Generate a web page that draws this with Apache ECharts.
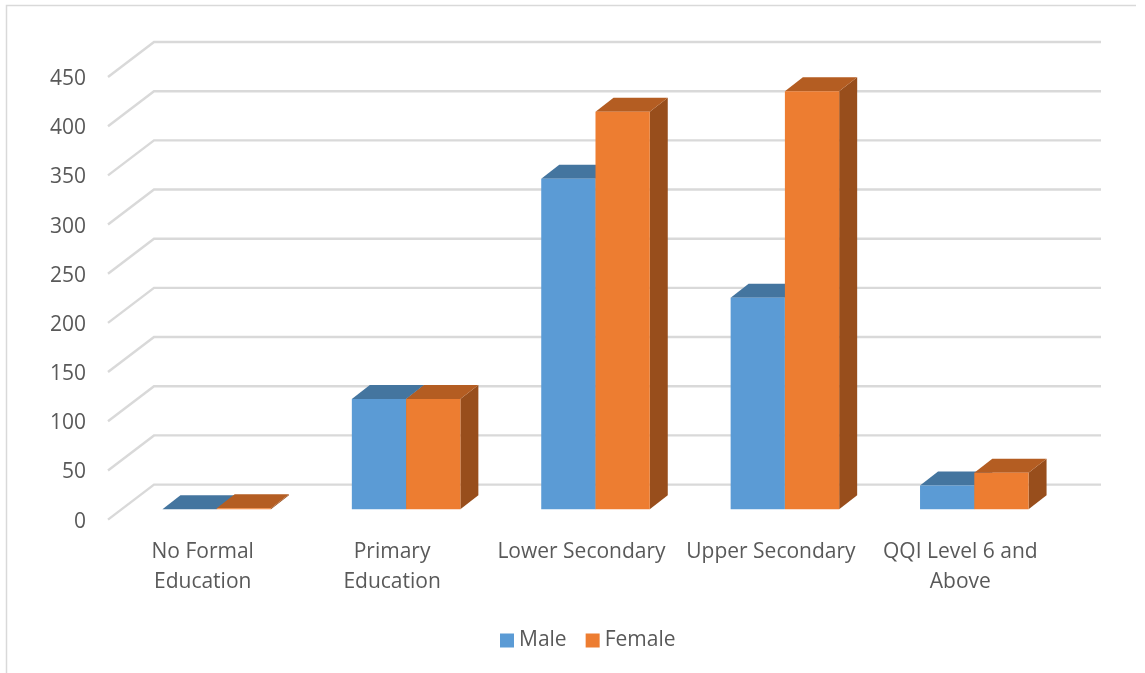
<!DOCTYPE html>
<html><head><meta charset="utf-8">
<style>html,body{margin:0;padding:0;background:#fff}#c{width:1145px;height:673px}</style>
<script src="https://cdn.jsdelivr.net/npm/echarts@6/dist/echarts.min.js"></script>
</head><body><div id="c"></div>
<script>
var categories = ['No Formal\nEducation', 'Primary\nEducation', 'Lower Secondary', 'Upper Secondary', 'QQI Level 6 and\nAbove'];
var male = [0, 112, 336, 215, 24];
var female = [1, 112, 404, 425, 37];
var yTicks = [0, 50, 100, 150, 200, 250, 300, 350, 400, 450];

var FONT = '"Open Sans", sans-serif';
var TEXT = '#595959';
var WALL = {dx: 46, dy: -35};
var FLOOR = {dx: 14, dy: -10.4};
var DEPTH = {dx: 18, dy: -14};
var GRID_COLOR = '#d9d9d9';

function wallItem(params, api) {
  var cs = params.coordSys;
  var y = api.coord([0, api.value(1)])[1];
  return {
    type: 'polyline', silent: true,
    shape: {points: [[cs.x, y], [cs.x + WALL.dx, y + WALL.dy], [cs.x + cs.width + WALL.dx, y + WALL.dy]]},
    style: {stroke: GRID_COLOR, lineWidth: 2.4, fill: null}
  };
}
function barRender(slot, front, top, side) {
  return function (params, api) {
    var c0 = api.coord([api.value(0), 0]);
    var c1 = api.coord([api.value(0), api.value(1)]);
    var w = api.size([1, 0])[0] * 0.2865;
    var x0 = c0[0] + FLOOR.dx + slot * w, x1 = x0 + w;
    var yb = c0[1] + FLOOR.dy, yt = c1[1] + FLOOR.dy;
    var d = DEPTH;
    return {type: 'group', children: [
      {type: 'polygon', shape: {points: [[x1, yb], [x1 + d.dx, yb + d.dy], [x1 + d.dx, yt + d.dy], [x1, yt]]}, style: {fill: side}},
      {type: 'polygon', shape: {points: [[x0, yt], [x0 + d.dx, yt + d.dy], [x1 + d.dx, yt + d.dy], [x1, yt]]}, style: {fill: top}},
      {type: 'rect', shape: {x: x0, y: yt, width: w, height: yb - yt}, style: {fill: front}}
    ]};
  };
}
function rows(values) { return values.map(function (v, i) { return [i, v]; }); }

var chart = echarts.init(document.getElementById('c'), null, {renderer: 'canvas'});
chart.setOption({
  animation: false,
  backgroundColor: '#ffffff',
  textStyle: {fontFamily: FONT},
  graphic: [{type: 'polyline', silent: true, shape: {points: [[6.5, 673], [6.5, 5.5], [1136, 5.5]]},
             style: {stroke: '#d9d9d9', lineWidth: 1.5, fill: null}}],
  grid: {left: 108, top: 77, width: 947, height: 442.6, containLabel: false},
  legend: {
    left: 495, top: 625, icon: 'rect', itemWidth: 14, itemHeight: 14, itemGap: 19,
    textStyle: {fontFamily: FONT, fontSize: 21, color: TEXT},
    data: ['Male', 'Female']
  },
  xAxis: {
    type: 'category', data: categories,
    axisLine: {show: false}, axisTick: {show: false}, splitLine: {show: false},
    axisLabel: {interval: 0, color: TEXT, fontFamily: FONT, fontSize: 21, lineHeight: 30, margin: 17}
  },
  yAxis: {
    type: 'value', min: 0, max: 450, interval: 50,
    axisLine: {show: false}, axisTick: {show: false}, splitLine: {show: false},
    axisLabel: {color: TEXT, fontFamily: FONT, fontSize: 21, margin: 22, verticalAlign: 'top', lineHeight: 4}
  },
  series: [
    {type: 'custom', name: 'wall', silent: true, z: 1, renderItem: wallItem,
     data: yTicks.map(function (t) { return [0, t]; }), encode: {x: 0, y: 1}},
    {type: 'custom', name: 'Male', z: 2, itemStyle: {color: '#5B9BD5'},
     renderItem: barRender(-1, '#5B9BD5', '#44759F', '#3A6488'), data: rows(male), encode: {x: 0, y: 1}},
    {type: 'custom', name: 'Female', z: 3, itemStyle: {color: '#ED7D31'},
     renderItem: barRender(0, '#ED7D31', '#B45D22', '#984E1C'), data: rows(female), encode: {x: 0, y: 1}}
  ]
});
</script></body></html>
